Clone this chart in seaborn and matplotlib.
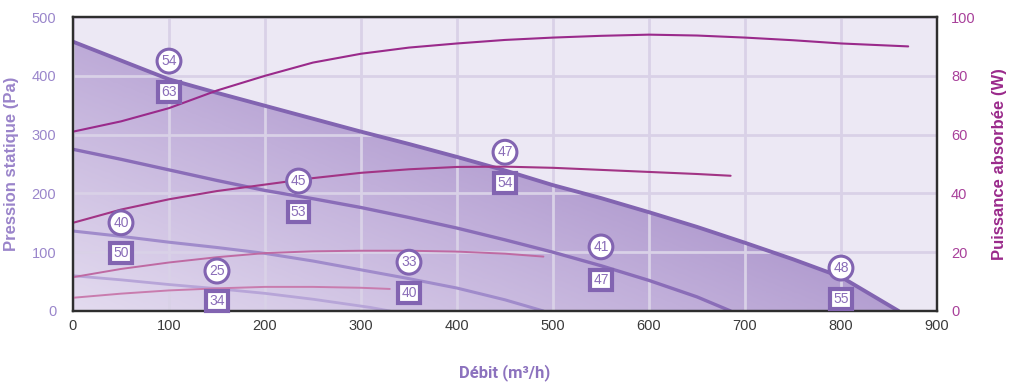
import numpy as np
import pandas as pd
import matplotlib
matplotlib.use("Agg")
import matplotlib.pyplot as plt
from matplotlib.colors import LinearSegmentedColormap
import seaborn as sns

# Fan curves: static pressure (Pa) versus airflow (m3/h)
fan1_x = [0, 50, 100, 150, 200, 250, 300, 350, 400, 450, 500, 550, 600, 650, 700, 750, 800, 860]
fan1_y = [458, 426, 394, 371, 349, 327, 305, 284, 262, 239, 214, 192, 168, 143, 116, 88, 58, 0]
fan2_x = [0, 50, 100, 150, 200, 250, 300, 350, 400, 450, 500, 550, 600, 650, 685]
fan2_y = [275, 258, 240, 222, 205, 191, 176, 159, 141, 121, 100, 77, 52, 24, 0]
fan3_x = [0, 50, 100, 150, 200, 250, 300, 350, 400, 450, 490]
fan3_y = [136, 127, 117, 108, 98, 85, 70, 55, 39, 19, 0]
fan4_x = [0, 50, 100, 150, 200, 250, 280, 310, 330]
fan4_y = [60, 53, 45, 38, 30, 20, 13, 6, 0]

# Absorbed power curves (W)
pw1_x = [0, 50, 100, 150, 200, 250, 300, 350, 400, 450, 500, 550, 600, 650, 700, 750, 800, 870]
pw1_y = [61, 64.5, 69, 75, 80, 84.5, 87.5, 89.6, 91, 92.2, 93, 93.6, 94, 93.7, 93, 92.1, 91, 90]
pw2_x = [0, 50, 100, 150, 200, 250, 300, 350, 400, 450, 500, 550, 600, 650, 685]
pw2_y = [30, 34.5, 38, 40.8, 43, 45.2, 47, 48.2, 49, 49.1, 48.7, 48, 47.3, 46.6, 46]
pw3_x = [0, 50, 100, 150, 200, 250, 300, 350, 400, 450, 490]
pw3_y = [11.5, 14.3, 16.5, 18.3, 19.7, 20.3, 20.5, 20.5, 20.2, 19.5, 18.5]
pw4_x = [0, 50, 100, 150, 200, 250, 300, 330]
pw4_y = [4.5, 5.9, 7, 7.7, 8.2, 8.2, 7.9, 7.5]

# Sound level badges (airflow, pressure, value)
circle_x = [100, 450, 235, 50, 150, 350, 550, 800]
circle_y = [425, 270, 221, 150, 68, 83, 109, 73]
circle_txt = ["54", "47", "45", "40", "25", "33", "41", "48"]
square_x = [100, 450, 235, 50, 150, 350, 550, 800]
square_y = [372, 218, 168, 99, 17, 31, 53, 20]
square_txt = ["63", "54", "53", "50", "34", "40", "47", "55"]

x_ticks = [0, 100, 200, 300, 400, 500, 600, 700, 800, 900]
p_ticks = [0, 100, 200, 300, 400, 500]
w_ticks = [0, 20, 40, 60, 80, 100]

PURPLE_TXT = "#9A86CB"
BG = "#ECE8F4"
GRID = "#D9D1E7"

sns.set_theme(style="white")
plt.rcParams["font.family"] = ["Liberation Sans", "DejaVu Sans"]

fig = plt.figure(figsize=(10.11, 3.83), dpi=100)
ax = fig.add_axes([0.0722, 0.188, 0.8546, 0.7676])
ax.set_facecolor(BG)
ax.set_xlim(0, 900)
ax.set_ylim(0, 500)

# Gradient shading under the maximum fan curve
fill = ax.fill_between(fan1_x, fan1_y, 0, facecolor="none", edgecolor="none")
gx, gy = np.meshgrid(np.linspace(0, 1, 300), np.linspace(0, 1, 200))
shade = np.clip(0.7 * gx + 0.6 * gy, 0, 1)
cmap = LinearSegmentedColormap.from_list("shade", ["#E3DBEF", "#C1AFDA", "#9C82C1"])
img = ax.imshow(shade, extent=[0, 900, 0, 500], origin="lower", cmap=cmap,
                aspect="auto", zorder=0.2, interpolation="bilinear")
img.set_clip_path(fill.get_paths()[0], transform=ax.transData)

ax.set_axisbelow(True)
ax.grid(True, color=GRID, linewidth=2)

fan_styles = [(fan1_x, fan1_y, "#8264B1", 2.8), (fan2_x, fan2_y, "#8A6DB8", 2.4),
              (fan3_x, fan3_y, "#A08BCB", 2.2), (fan4_x, fan4_y, "#B7A5D8", 2.0)]
for fx, fy, col, lw in fan_styles:
    sns.lineplot(x=fx, y=fy, ax=ax, color=col, linewidth=lw, sort=False, zorder=2)

ax.set_xticks(x_ticks)
ax.set_yticks(p_ticks)
ax.tick_params(axis="x", colors="#3A3A3A", labelsize=10.5, length=0, pad=6)
ax.tick_params(axis="y", colors=PURPLE_TXT, labelsize=10.5, length=0, pad=12)
ax.set_xlabel("Débit (m³/h)", color="#8C72BE", fontsize=12, fontweight="semibold",
              family=["Roboto", "DejaVu Sans"], labelpad=22)
ax.set_ylabel("Pression statique (Pa)", color="#9A84CA", fontsize=12,
              fontweight="semibold", labelpad=9)

ax2 = ax.twinx()
ax2.set_ylim(0, 100)
pw_styles = [(pw1_x, pw1_y, "#9A2A8B", 1.5), (pw2_x, pw2_y, "#A23485", 1.5),
             (pw3_x, pw3_y, "#BF6AA3", 1.4), (pw4_x, pw4_y, "#C97CAE", 1.4)]
for px, py, col, lw in pw_styles:
    sns.lineplot(x=px, y=py, ax=ax2, color=col, linewidth=lw, sort=False, zorder=2)
ax2.set_yticks(w_ticks)
ax2.tick_params(axis="y", colors="#A8409A", labelsize=10.5, length=0, pad=10)
ax2.set_ylabel("Puissance absorbée (W)", color="#9A2A8B", fontsize=12,
               fontweight="semibold", labelpad=12)
ax2.grid(False)

for a in (ax, ax2):
    for s in a.spines.values():
        s.set_color("#2E2E2E")
        s.set_linewidth(1.6)

# Sound level badges drawn on the top axes, in pressure coordinates
for bx, by, t in zip(circle_x, circle_y, circle_txt):
    ax2.text(bx, by, t, transform=ax.transData, ha="center", va="center",
             fontsize=10, color="#8A6DB8", zorder=5,
             bbox=dict(boxstyle="circle,pad=0.3", fc="white", ec="#8264B1", lw=2.2))
for bx, by, t in zip(square_x, square_y, square_txt):
    ax2.text(bx, by, t, transform=ax.transData, ha="center", va="center",
             fontsize=10, color="#8A6DB8", zorder=5,
             bbox=dict(boxstyle="square,pad=0.22", fc="white", ec="#8264B1", lw=3))

fig.savefig("out.png", dpi=100, facecolor="white")
